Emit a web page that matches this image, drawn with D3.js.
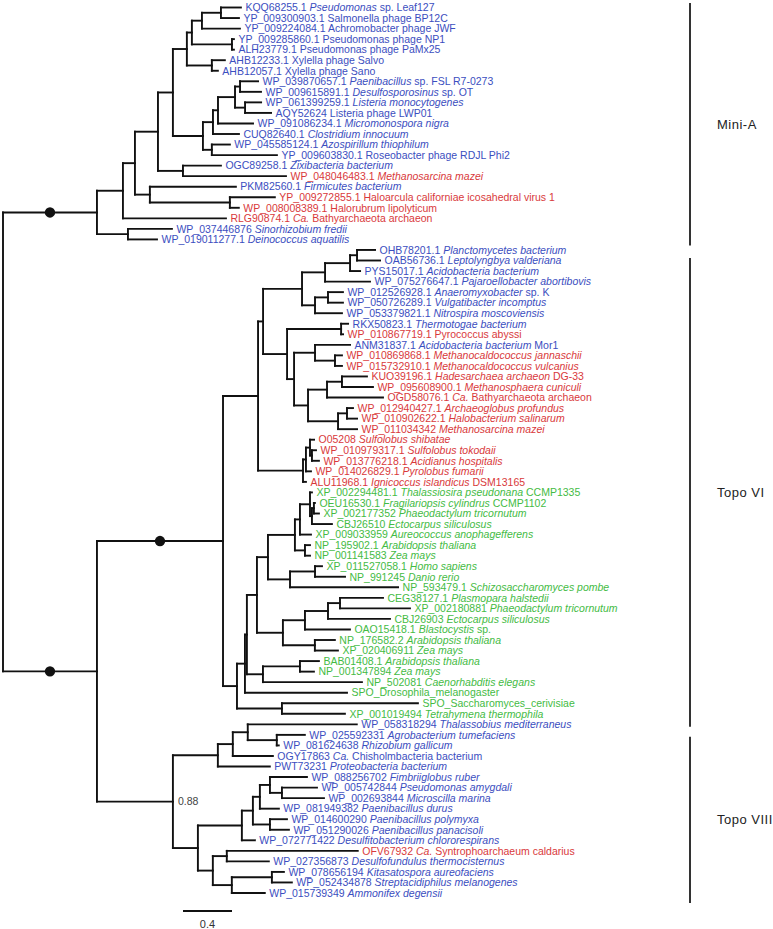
<!DOCTYPE html>
<html><head><meta charset="utf-8">
<script src="https://cdn.jsdelivr.net/npm/d3@7"></script>
<style>body{margin:0;background:#fff;} svg{display:block;}</style>
</head><body><svg id="chart" width="773" height="929"></svg>
<script>
// ---------- DATA ----------
// [node id, parent id, branch length]
const branches = [
 ["root", null, 0],
 ["MiniA", "root", 0.767],
 ["m_G", "MiniA", 0.212],
 ["m_F", "m_G", 0.098],
 ["m_E", "m_F", 0.188],
 ["m_D", "m_E", 0.122],
 ["m_C", "m_D", 0.114],
 ["m_B", "m_C", 0.041],
 ["m_A", "m_B", 0.082],
 ["m_A1", "m_A", 0.155],
 ["KQQ68255.1", "m_A1", 0.163],
 ["YP_009300903.1", "m_A1", 0.147],
 ["YP_009224084.1", "m_A", 0.310],
 ["m_B1", "m_B", 0.327],
 ["YP_009285860.1", "m_B1", 0.016],
 ["ALH23779.1", "m_B1", 0.016],
 ["m_C1", "m_C", 0.204],
 ["AHB12233.1", "m_C1", 0.106],
 ["AHB12057.1", "m_C1", 0.049],
 ["m_H", "m_D", 0.245],
 ["m_H1", "m_H", 0.082],
 ["m_H2", "m_H1", 0.041],
 ["m_H3", "m_H2", 0.139],
 ["m_H4", "m_H3", 0.041],
 ["WP_039870657.1", "m_H4", 0.147],
 ["WP_009615891.1", "m_H4", 0.171],
 ["m_H5", "m_H3", 0.082],
 ["WP_061399259.1", "m_H5", 0.131],
 ["AQY52624", "m_H5", 0.212],
 ["WP_091086234.1", "m_H2", 0.286],
 ["CUQ82640.1", "m_H1", 0.212],
 ["m_H6", "m_H", 0.073],
 ["WP_045585124.1", "m_H6", 0.147],
 ["YP_009603830.1", "m_H6", 0.531],
 ["m_E1", "m_E", 0.204],
 ["OGC89258.1", "m_E1", 0.310],
 ["WP_048046483.1", "m_E1", 0.841],
 ["m_F1", "m_F", 0.122],
 ["PKM82560.1", "m_F1", 0.702],
 ["m_F2", "m_F1", 0.653],
 ["YP_009272855.1", "m_F2", 0.367],
 ["WP_008008389.1", "m_F2", 0.073],
 ["RLG90874.1", "m_G", 0.841],
 ["m_MA2", "MiniA", 0.253],
 ["WP_037446876", "m_MA2", 0.359],
 ["WP_019011277.1", "m_MA2", 0.237],
 ["R2", "root", 0.767],
 ["TopoVI", "R2", 1.029],
 ["t_T1", "TopoVI", 0.286],
 ["t_T2", "t_T1", 0.041],
 ["t_BN", "t_T2", 0.318],
 ["t_B1", "t_BN", 0.188],
 ["t_B2", "t_B1", 0.204],
 ["t_B3", "t_B2", 0.057],
 ["OHB78201.1", "t_B3", 0.147],
 ["OAB56736.1", "t_B3", 0.188],
 ["PYS15017.1", "t_B2", 0.082],
 ["WP_075276647.1", "t_B1", 0.367],
 ["t_B4", "t_BN", 0.106],
 ["t_B5", "t_B4", 0.106],
 ["WP_012526928.1", "t_B5", 0.122],
 ["WP_050726289.1", "t_B5", 0.122],
 ["WP_053379821.1", "t_B4", 0.220],
 ["t_AN", "t_T2", 0.196],
 ["t_AN1", "t_AN", 0.441],
 ["RKX50823.1", "t_AN1", 0.057],
 ["WP_010867719.1", "t_AN1", 0.016],
 ["t_AN2", "t_AN", 0.057],
 ["t_AN3", "t_AN2", 0.171],
 ["ANM31837.1", "t_AN3", 0.286],
 ["t_AN4", "t_AN3", 0.163],
 ["WP_010869868.1", "t_AN4", 0.057],
 ["WP_015732910.1", "t_AN4", 0.057],
 ["t_AN5", "t_AN2", 0.114],
 ["t_AN6", "t_AN5", 0.155],
 ["t_AN7", "t_AN6", 0.122],
 ["KUO39196.1", "t_AN7", 0.204],
 ["WP_095608900.1", "t_AN7", 0.253],
 ["OGD58076.1", "t_AN6", 0.457],
 ["t_AN8", "t_AN5", 0.245],
 ["t_AN9", "t_AN8", 0.073],
 ["WP_012940427.1", "t_AN9", 0.049],
 ["WP_010902622.1", "t_AN9", 0.082],
 ["WP_011034342", "t_AN8", 0.155],
 ["t_S1", "t_T1", 0.367],
 ["t_S2", "t_S1", 0.024],
 ["t_S3", "t_S2", 0.033],
 ["O05208", "t_S3", 0.033],
 ["t_S4", "t_S3", 0.016],
 ["WP_010979317.1", "t_S4", 0.033],
 ["WP_013776218.1", "t_S4", 0.057],
 ["WP_014026829.1", "t_S2", 0.041],
 ["ALU11968.1", "t_S1", 0.024],
 ["t_EU1", "TopoVI", 0.114],
 ["t_EU2", "t_EU1", 0.065],
 ["t_EU3", "t_EU2", 0.016],
 ["t_EU4", "t_EU3", 0.082],
 ["t_EU6", "t_EU4", 0.090],
 ["t_EU8", "t_EU6", 0.220],
 ["t_EU10", "t_EU8", 0.041],
 ["t_EU12", "t_EU10", 0.082],
 ["XP_002294481.1", "t_EU12", 0.016],
 ["t_EU13", "t_EU12", 0.016],
 ["t_EU14", "t_EU13", 0.016],
 ["OEU16530.1", "t_EU14", 0.008],
 ["XP_002177352", "t_EU14", 0.041],
 ["CBJ26510", "t_EU13", 0.163],
 ["XP_009033959", "t_EU10", 0.090],
 ["t_EU11", "t_EU8", 0.082],
 ["NP_195902.1", "t_EU11", 0.041],
 ["NP_001141583", "t_EU11", 0.041],
 ["t_EU9", "t_EU6", 0.180],
 ["t_EU15", "t_EU9", 0.204],
 ["XP_011527058.1", "t_EU15", 0.057],
 ["NP_991245", "t_EU15", 0.245],
 ["NP_593479.1", "t_EU9", 0.882],
 ["t_EU7", "t_EU4", 0.212],
 ["t_EU16", "t_EU7", 0.180],
 ["t_EU17", "t_EU16", 0.188],
 ["t_EU18", "t_EU17", 0.098],
 ["CEG38127.1", "t_EU18", 0.351],
 ["XP_002180881", "t_EU18", 0.571],
 ["CBJ26903", "t_EU17", 0.506],
 ["OAO15418.1", "t_EU16", 0.367],
 ["t_EU19", "t_EU7", 0.261],
 ["NP_176582.2", "t_EU19", 0.163],
 ["XP_020406911", "t_EU19", 0.188],
 ["t_EU5", "t_EU3", 0.131],
 ["t_EU20", "t_EU5", 0.302],
 ["BAB01408.1", "t_EU20", 0.155],
 ["NP_001347894", "t_EU20", 0.114],
 ["NP_502081", "t_EU5", 0.808],
 ["SPO_Drosophila_melanogaster", "t_EU2", 0.833],
 ["t_EU21", "t_EU1", 0.367],
 ["SPO_Saccharomyces_cerivisiae", "t_EU21", 1.110],
 ["XP_001019494", "t_EU21", 0.514],
 ["TopoVIII", "R2", 0.620],
 ["v_V1", "TopoVIII", 0.367],
 ["v_V2", "v_V1", 0.122],
 ["v_V3", "v_V2", 0.122],
 ["WP_058318294", "v_V3", 0.890],
 ["v_V4", "v_V3", 0.237],
 ["WP_025592331", "v_V4", 0.229],
 ["WP_081624638", "v_V4", 0.016],
 ["OGY17863", "v_V2", 0.327],
 ["PWT73231", "v_V1", 0.424],
 ["v_V5", "TopoVIII", 0.204],
 ["v_V6", "v_V5", 0.359],
 ["v_V7", "v_V6", 0.090],
 ["v_V8", "v_V7", 0.057],
 ["v_V10", "v_V8", 0.082],
 ["WP_088256702", "v_V10", 0.302],
 ["v_V11", "v_V10", 0.098],
 ["WP_005742844", "v_V11", 0.286],
 ["WP_002693844", "v_V11", 0.343],
 ["WP_081949382", "v_V8", 0.155],
 ["v_V9", "v_V7", 0.139],
 ["WP_014600290", "v_V9", 0.139],
 ["WP_051290026", "v_V9", 0.155],
 ["WP_072771422", "v_V6", 0.106],
 ["v_V12", "v_V5", 0.122],
 ["v_V13", "v_V12", 0.114],
 ["OFV67932", "v_V13", 1.069],
 ["WP_027356873", "v_V13", 0.343],
 ["v_V14", "v_V12", 0.155],
 ["v_V15", "v_V14", 0.327],
 ["WP_078656194", "v_V15", 0.098],
 ["WP_052434878", "v_V15", 0.163],
 ["WP_015739349", "v_V14", 0.269]
];

// [leaf id, organism (*italic*), domain: B bacteria/phage, A archaea, E eukaryote]
const taxa = [
 ["KQQ68255.1", "*Pseudomonas* sp. Leaf127", "B"],
 ["YP_009300903.1", "Salmonella phage BP12C", "B"],
 ["YP_009224084.1", "Achromobacter phage JWF", "B"],
 ["YP_009285860.1", "Pseudomonas phage NP1", "B"],
 ["ALH23779.1", "Pseudomonas phage PaMx25", "B"],
 ["AHB12233.1", "Xylella phage Salvo", "B"],
 ["AHB12057.1", "Xylella phage Sano", "B"],
 ["WP_039870657.1", "*Paenibacillus* sp. FSL R7-0273", "B"],
 ["WP_009615891.1", "*Desulfosporosinus* sp. OT", "B"],
 ["WP_061399259.1", "*Listeria monocytogenes*", "B"],
 ["AQY52624", "Listeria phage LWP01", "B"],
 ["WP_091086234.1", "*Micromonospora nigra*", "B"],
 ["CUQ82640.1", "*Clostridium innocuum*", "B"],
 ["WP_045585124.1", "*Azospirillum thiophilum*", "B"],
 ["YP_009603830.1", "Roseobacter phage RDJL Phi2", "B"],
 ["OGC89258.1", "*Zixibacteria bacterium*", "B"],
 ["WP_048046483.1", "*Methanosarcina mazei*", "A"],
 ["PKM82560.1", "*Firmicutes bacterium*", "B"],
 ["YP_009272855.1", "Haloarcula californiae icosahedral virus 1", "A"],
 ["WP_008008389.1", "Halorubrum lipolyticum", "A"],
 ["RLG90874.1", "*Ca.* Bathyarchaeota archaeon", "A"],
 ["WP_037446876", "*Sinorhizobium fredii*", "B"],
 ["WP_019011277.1", "*Deinococcus aquatilis*", "B"],
 ["OHB78201.1", "*Planctomycetes bacterium*", "B"],
 ["OAB56736.1", "*Leptolyngbya valderiana*", "B"],
 ["PYS15017.1", "*Acidobacteria bacterium*", "B"],
 ["WP_075276647.1", "*Pajaroellobacter abortibovis*", "B"],
 ["WP_012526928.1", "*Anaeromyxobacter* sp. K", "B"],
 ["WP_050726289.1", "*Vulgatibacter incomptus*", "B"],
 ["WP_053379821.1", "*Nitrospira moscoviensis*", "B"],
 ["RKX50823.1", "*Thermotogae bacterium*", "B"],
 ["WP_010867719.1", "Pyrococcus abyssi", "A"],
 ["ANM31837.1", "*Acidobacteria bacterium* Mor1", "B"],
 ["WP_010869868.1", "*Methanocaldococcus jannaschii*", "A"],
 ["WP_015732910.1", "*Methanocaldococcus vulcanius*", "A"],
 ["KUO39196.1", "*Hadesarchaea archaeon* DG-33", "A"],
 ["WP_095608900.1", "*Methanosphaera cuniculi*", "A"],
 ["OGD58076.1", "*Ca.* Bathyarchaeota archaeon", "A"],
 ["WP_012940427.1", "*Archaeoglobus profundus*", "A"],
 ["WP_010902622.1", "*Halobacterium salinarum*", "A"],
 ["WP_011034342", "*Methanosarcina mazei*", "A"],
 ["O05208", "*Sulfolobus shibatae*", "A"],
 ["WP_010979317.1", "*Sulfolobus tokodaii*", "A"],
 ["WP_013776218.1", "*Acidianus hospitalis*", "A"],
 ["WP_014026829.1", "*Pyrolobus fumarii*", "A"],
 ["ALU11968.1", "*Ignicoccus islandicus* DSM13165", "A"],
 ["XP_002294481.1", "*Thalassiosira pseudonana* CCMP1335", "E"],
 ["OEU16530.1", "*Fragilariopsis cylindrus* CCMP1102", "E"],
 ["XP_002177352", "*Phaeodactylum tricornutum*", "E"],
 ["CBJ26510", "*Ectocarpus siliculosus*", "E"],
 ["XP_009033959", "*Aureococcus anophagefferens*", "E"],
 ["NP_195902.1", "*Arabidopsis thaliana*", "E"],
 ["NP_001141583", "*Zea mays*", "E"],
 ["XP_011527058.1", "*Homo sapiens*", "E"],
 ["NP_991245", "*Danio rerio*", "E"],
 ["NP_593479.1", "*Schizosaccharomyces pombe*", "E"],
 ["CEG38127.1", "*Plasmopara halstedii*", "E"],
 ["XP_002180881", "*Phaeodactylum tricornutum*", "E"],
 ["CBJ26903", "*Ectocarpus siliculosus*", "E"],
 ["OAO15418.1", "*Blastocystis* sp.", "E"],
 ["NP_176582.2", "*Arabidopsis thaliana*", "E"],
 ["XP_020406911", "*Zea mays*", "E"],
 ["BAB01408.1", "*Arabidopsis thaliana*", "E"],
 ["NP_001347894", "*Zea mays*", "E"],
 ["NP_502081", "*Caenorhabditis elegans*", "E"],
 ["SPO_Drosophila_melanogaster", "", "E"],
 ["SPO_Saccharomyces_cerivisiae", "", "E"],
 ["XP_001019494", "*Tetrahymena thermophila*", "E"],
 ["WP_058318294", "*Thalassobius mediterraneus*", "B"],
 ["WP_025592331", "*Agrobacterium tumefaciens*", "B"],
 ["WP_081624638", "*Rhizobium gallicum*", "B"],
 ["OGY17863", "*Ca.* Chisholmbacteria bacterium", "B"],
 ["PWT73231", "*Proteobacteria bacterium*", "B"],
 ["WP_088256702", "*Fimbriiglobus ruber*", "B"],
 ["WP_005742844", "*Pseudomonas amygdali*", "B"],
 ["WP_002693844", "*Microscilla marina*", "B"],
 ["WP_081949382", "*Paenibacillus durus*", "B"],
 ["WP_014600290", "*Paenibacillus polymyxa*", "B"],
 ["WP_051290026", "*Paenibacillus panacisoli*", "B"],
 ["WP_072771422", "*Desulfitobacterium chlororespirans*", "B"],
 ["OFV67932", "*Ca.* Syntrophoarchaeum caldarius", "A"],
 ["WP_027356873", "*Desulfofundulus thermocisternus*", "B"],
 ["WP_078656194", "*Kitasatospora aureofaciens*", "B"],
 ["WP_052434878", "*Streptacidiphilus melanogenes*", "B"],
 ["WP_015739349", "*Ammonifex degensii*", "B"]
];

const cladeNames = ["Mini-A", "Topo VI", "Topo VIII"];
const cladeFirst = ["KQQ68255.1", "OHB78201.1", "WP_058318294"];
const cladeLast  = ["WP_019011277.1", "XP_001019494", "WP_015739349"];
const supportDots = ["MiniA", "R2", "TopoVI"];     // branches carrying a filled dot
const supportNodes = ["TopoVIII"];
const supportValues = ["0.88"];
const scaleBarValue = 0.4;
const scaleBarLabel = "0.4";

// ---------- DRAWING ----------
const domainColor = {B: "#3b4ec0", A: "#d9393b", E: "#44bb44"};
const FONT = "'Liberation Sans', Arial, sans-serif";
const svg = d3.select("#chart");

const root = d3.stratify().id(d => d[0]).parentId(d => d[1])(branches);
root.eachBefore(n => { n.dist = n.parent ? n.parent.dist + n.data[2] : 0; });
const leaves = root.leaves();

const x = d3.scaleLinear().domain([0, 1]).range([3, 125.5]);
const y = d3.scaleLinear().domain([0, leaves.length - 1]).range([7.5, 893]);
leaves.forEach((l, i) => { l.yy = y(i); });
root.eachAfter(n => {
  if (n.children) n.yy = (n.children[0].yy + n.children[n.children.length - 1].yy) / 2;
});

const g = svg.append("g");
const stroke = "#111";
// horizontal branches
g.selectAll("line.h").data(root.descendants().filter(n => n.parent)).join("line")
  .attr("x1", n => x(n.parent.dist)).attr("x2", n => x(n.dist))
  .attr("y1", n => n.yy).attr("y2", n => n.yy)
  .attr("stroke", stroke).attr("stroke-width", 1.9).attr("stroke-linecap", "square");
// vertical connectors
g.selectAll("line.v").data(root.descendants().filter(n => n.children)).join("line")
  .attr("x1", n => x(n.dist)).attr("x2", n => x(n.dist))
  .attr("y1", n => n.children[0].yy).attr("y2", n => n.children[n.children.length - 1].yy)
  .attr("stroke", stroke).attr("stroke-width", 1.9).attr("stroke-linecap", "square");

// support dots
const nodeById = new Map(root.descendants().map(n => [n.id, n]));
g.selectAll("circle.s").data(supportDots.map(id => nodeById.get(id))).join("circle")
  .attr("cx", n => x((n.parent.dist + n.dist) / 2)).attr("cy", n => n.yy)
  .attr("r", 5.2).attr("fill", "#111");

// support values
supportNodes.forEach((id, i) => {
  const n = nodeById.get(id);
  g.append("text").attr("x", x(n.dist) + 5).attr("y", n.yy).attr("dy", "0.35em")
    .attr("font-family", FONT).attr("font-size", 10.5).attr("fill", "#444")
    .text(supportValues[i]);
});

// leaf labels
const taxaMap = new Map(taxa.map(t => [t[0], t]));
leaves.forEach(l => {
  const t = taxaMap.get(l.id);
  const txt = g.append("text").attr("x", x(l.dist) + 4.5).attr("y", l.yy).attr("dy", "0.36em")
    .attr("font-family", FONT).attr("font-size", 10.5).attr("fill", domainColor[t[2]]);
  txt.append("tspan").text(t[1] ? t[0] + " " : t[0]);
  t[1].split("*").forEach((seg, i) => {
    if (seg.length) txt.append("tspan").attr("font-style", i % 2 ? "italic" : "normal").text(seg);
  });
});

// clade bars (bar ends offset from the first/last leaf rows, as drawn in the figure)
const barX = 690;
const barPadTop = [-4.5, 8, 12.5];
const barPadBottom = [6, 13, 10];
cladeNames.forEach((name, i) => {
  const y0 = nodeById.get(cladeFirst[i]).yy + barPadTop[i];
  const y1 = nodeById.get(cladeLast[i]).yy + barPadBottom[i];
  g.append("line").attr("x1", barX).attr("x2", barX).attr("y1", y0).attr("y2", y1)
    .attr("stroke", "#333").attr("stroke-width", 2);
  g.append("text").attr("x", barX + 27).attr("y", (y0 + y1) / 2).attr("dy", "0.35em")
    .attr("font-family", FONT).attr("font-size", 13).attr("letter-spacing", "0.5px")
    .attr("fill", "#222").text(name);
});

// scale bar
const sbX = 183, sbY = 911;
const sbW = x(scaleBarValue) - x(0);
g.append("line").attr("x1", sbX).attr("x2", sbX + sbW).attr("y1", sbY).attr("y2", sbY)
  .attr("stroke", "#111").attr("stroke-width", 1.9);
g.append("text").attr("x", sbX + sbW / 2).attr("y", sbY + 13).attr("dy", "0.35em")
  .attr("text-anchor", "middle").attr("font-family", FONT).attr("font-size", 11)
  .attr("fill", "#333").text(scaleBarLabel);
</script>
</body></html>
